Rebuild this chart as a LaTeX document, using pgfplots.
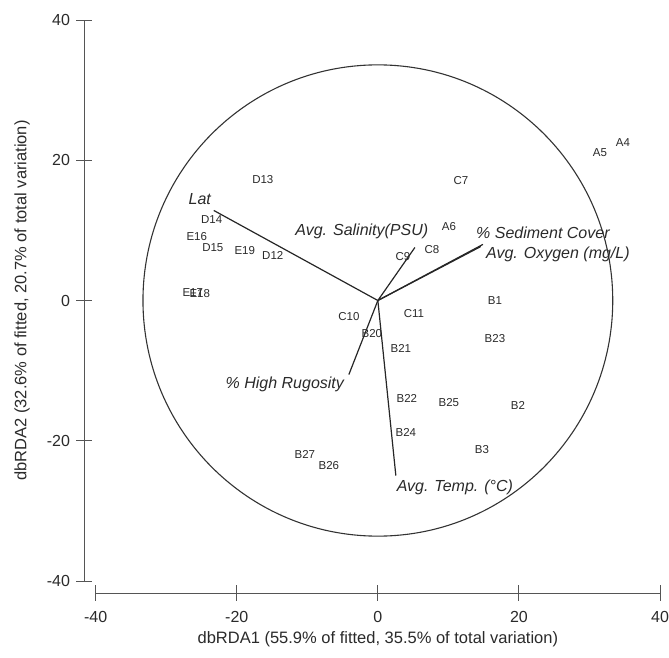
\documentclass[border=0pt]{standalone}
\usepackage{fontspec}
\setmainfont{Liberation Sans}
\usepackage{pgfplots}
\pgfplotsset{compat=1.18}
\definecolor{txt}{HTML}{2A2A2A}
\definecolor{axc}{HTML}{555555}
\begin{document}
\begin{tikzpicture}
\begin{axis}[
  scale only axis,
  width=576bp, height=573bp,
  xmin=-41.66, xmax=40, ymin=-41.71, ymax=40,
  axis line style={draw=none},
  xtick={-40,-20,0,20,40}, ytick={-40,-20,0,20,40},
  tick align=center, major tick length=15bp,
  tick style={axc, line width=0.9bp},
  xtick pos=bottom, ytick pos=left,
  /pgf/number format/assume math mode=true,
  ticklabel style={font=\fontsize{16bp}{19bp}\selectfont, text=txt},
  xticklabel style={yshift=-7bp},
  yticklabel style={xshift=-3bp},
  clip=false,
  xlabel={dbRDA1 (55.9\% of fitted, 35.5\% of total variation)},
  ylabel={dbRDA2 (32.6\% of fitted, 20.7\% of total variation)},
  every axis x label/.style={at={(axis cs:0,-41.71)}, anchor=center, yshift=-46bp, font=\fontsize{16.5bp}{19bp}\selectfont, text=txt},
  every axis y label/.style={at={(axis cs:-41.66,0)}, rotate=90, anchor=center, yshift=62bp, font=\fontsize{16.5bp}{19bp}\selectfont, text=txt},
]
% axis lines
\draw[axc, line width=1bp] (axis cs:-40,-41.71) -- (axis cs:40,-41.71);
\draw[axc, line width=1bp] (axis cs:-41.66,-40) -- (axis cs:-41.66,40);
% circle
\draw[black!80, line width=1.1bp] (axis cs:0,0) ellipse [x radius=33.3, y radius=33.6];
% vectors
\addplot[black!85, line width=1.2bp] coordinates {(0,0) (-23.26,12.84)};
\addplot[black!85, line width=1.2bp] coordinates {(0,0) (5.25,7.56)};
\addplot[black!85, line width=1.2bp] coordinates {(0,0) (14.90,8.00)};
\addplot[black!85, line width=1.2bp] coordinates {(0,0) (14.60,7.70)};
\addplot[black!85, line width=1.2bp] coordinates {(0,0) (-4.11,-10.56)};
\addplot[black!85, line width=1.2bp] coordinates {(0,0) (2.55,-24.96)};
% vector labels
\begin{scope}[every node/.style={font=\fontsize{16bp}{19bp}\selectfont\itshape, text=txt, inner sep=0pt}]
\node at (axis cs:-25.25,14.41) {Lat};
\node at (axis cs:-2.27,9.84) {Avg. Salinity(PSU)};
\node at (axis cs:23.4,9.70) {\% Sediment Cover};
\node at (axis cs:25.53,6.56) {Avg. Oxygen (mg/L)};
\node at (axis cs:-13.19,-11.98) {\% High Rugosity};
\node at (axis cs:10.92,-26.68) {Avg. Temp. (°C)};
\end{scope}
% samples
\addplot[only marks, mark=*, mark size=0pt, mark options={draw=none, fill=none},
  nodes near coords, point meta=explicit symbolic,
  nodes near coords style={anchor=center, inner sep=0pt, text=txt, font=\fontsize{11.5bp}{13bp}\selectfont}]
  table[meta=label] {
x y label
34.75 22.54 A4
31.49 21.11 A5
10.07 10.56 A6
11.77 17.12 C7
7.66 7.28 C8
3.55 6.28 C9
-4.11 -2.28 C10
5.11 -1.85 C11
-14.90 6.42 D12
-16.31 17.26 D13
-23.55 11.55 D14
-23.40 7.56 D15
-25.67 9.13 E16
-26.24 1.14 E17
-25.25 1.00 E18
-18.87 7.13 E19
16.60 0.00 B1
19.86 -14.98 B2
14.75 -21.26 B3
-0.85 -4.71 B20
3.26 -6.85 B21
4.11 -13.98 B22
16.60 -5.42 B23
3.97 -18.83 B24
10.07 -14.55 B25
-6.95 -23.54 B26
-10.35 -21.97 B27
};
\end{axis}
\pgfresetboundingbox
\useasboundingbox (-84bp,-65bp) rectangle (585bp,593bp);
\end{tikzpicture}
\end{document}
